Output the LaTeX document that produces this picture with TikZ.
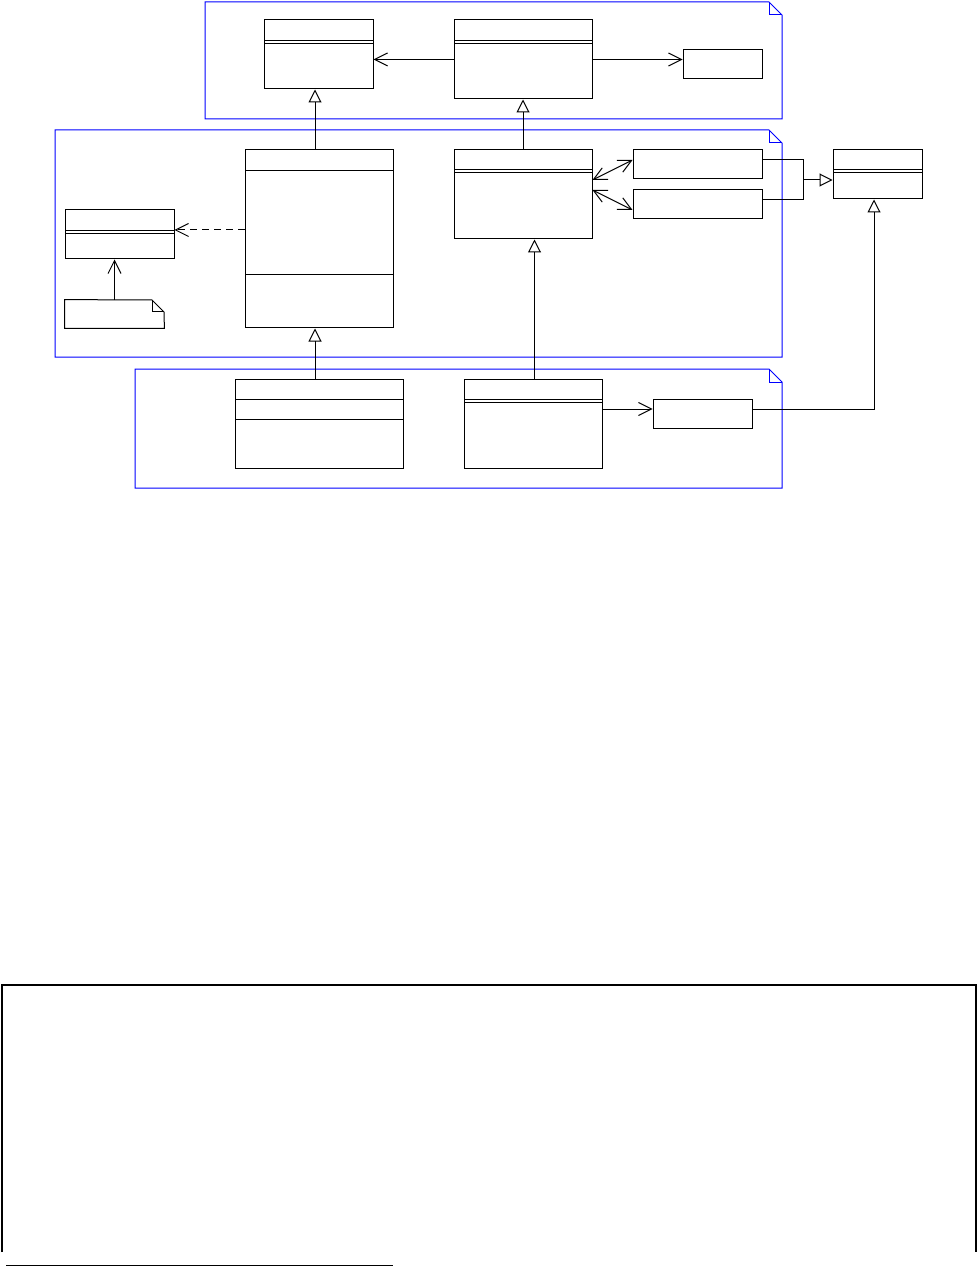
\documentclass[tikz,border=0pt]{standalone}
\usetikzlibrary{arrows.meta,fit,calc}
\tikzset{
  cls/.style={draw, line width=0.5pt, inner sep=0pt},
  ghost/.style={inner sep=0pt},
  pkg/.style={draw=blue, line width=0.5pt},
  ln/.style={line width=0.5pt},
  assoc/.style={ln, -{Straight Barb[length=6.5pt,width=6.5pt]}},
  biassoc/.style={ln, {Straight Barb[length=6.5pt,width=6.5pt]}-{Straight Barb[length=6.5pt,width=6.5pt]}},
  gen/.style={ln, -{Triangle[open,length=6.5pt,width=6.5pt]}},
  dep/.style={ln, dash pattern=on 3.5pt off 2.5pt, -{Straight Barb[length=6.5pt,width=6.5pt]}},
}
\begin{document}
\begin{tikzpicture}[x=0.5pt,y=-0.5pt]
\useasboundingbox (0,0) rectangle (978,1267);

% packages
\draw[pkg] (205,2) -- (769,2) -- (782,15) -- (782,119) -- (205,119) -- cycle;
\draw[pkg] (769,2) -- (769,15) -- (782,15);
\draw[pkg] (55,130) -- (769,130) -- (782,143) -- (782,357) -- (55,357) -- cycle;
\draw[pkg] (769,130) -- (769,143) -- (782,143);
\draw[pkg] (135,369) -- (769,369) -- (782,382) -- (782,488) -- (135,488) -- cycle;
\draw[pkg] (769,369) -- (769,382) -- (782,382);

% classes
\node[cls, fit={(264,20) (373,89)}] (A) {};
\draw[ln] (264,40.5) -- (373,40.5) (264,43.5) -- (373,43.5);
\node[cls, fit={(454,20) (592,99)}] (B) {};
\draw[ln] (454,40.5) -- (592,40.5) (454,43.5) -- (592,43.5);
\node[cls, fit={(683,50) (762,79)}] (C) {};

\node[cls, fit={(65,210) (174,259)}] (D) {};
\draw[ln] (65,230.5) -- (174,230.5) (65,233.5) -- (174,233.5);
\node[ghost, fit={(65,300) (164,328)}] (N) {};
\draw[ln] (N.south west) -- (N.north west) -- (152,300) -- (164,312) -- (N.south east) -- cycle;
\draw[ln] (152,300) -- (152,312) -- (164,312);
\node[cls, fit={(245,150) (393,328)}] (E) {};
\draw[ln] (245,170.5) -- (393,170.5) (245,275) -- (393,275);
\node[cls, fit={(454,150) (592,239)}] (F) {};
\draw[ln] (454,170) -- (592,170) (454,173) -- (592,173);
\node[cls, fit={(633,150) (762,179)}] (G) {};
\node[cls, fit={(633,190) (762,219)}] (H) {};
\node[cls, fit={(833,150) (922,199)}] (I) {};
\draw[ln] (833,170) -- (922,170) (833,173) -- (922,173);

\node[cls, fit={(235,379) (403,468)}] (J) {};
\draw[ln] (235,399) -- (403,399) (235,419) -- (403,419);
\node[cls, fit={(464,379) (602,468)}] (K) {};
\draw[ln] (464,399) -- (602,399) (464,402) -- (602,402);
\node[cls, fit={(653,399) (752,428)}] (L) {};

% connectors
\draw[assoc] (B.west) -- (B.west -| A.east);
\draw[assoc] (B.east) -- (B.east -| C.west);
\coordinate (e1) at ([xshift=-2pt]E.north);
\draw[gen] (e1) -- (e1 |- A.south);
\draw[gen] (F.north) -- (B.south);
\coordinate (dD) at ([yshift=2.25pt]D.east);
\draw[dep] (dD -| E.west) -- (dD);
\draw[assoc] (N.north) -- (N.north |- D.south);
\draw[biassoc] ([yshift=7.25pt]F.east) -- ([yshift=2.25pt]G.west);
\draw[biassoc] ([yshift=2.25pt]F.east) -- ([yshift=-2.75pt]H.west);
\coordinate (jn) at (803,180);
\draw[ln] ([yshift=2.25pt]G.east) -| (jn);
\draw[ln] ([yshift=2.25pt]H.east) -| (jn);
\draw[gen] (jn) -- (jn -| I.west);
\coordinate (j1) at ([xshift=-2pt]J.north);
\draw[gen] (j1) -- (j1 |- E.south);
\coordinate (k1) at ([xshift=0.75pt]K.north);
\draw[gen] (k1) -- (k1 |- F.south);
\coordinate (kr) at ([yshift=7.25pt]K.east);
\draw[assoc] (kr) -- (kr -| L.west);
\coordinate (lr) at ([yshift=2.25pt]L.east);
\coordinate (ib) at ([xshift=-1.75pt]I.south);
\draw[gen] (lr) -| (ib);

% lower frame and rule
\draw[line width=0.6pt] (2,1252) -- (2,985) -- (976,985) -- (976,1252);
\draw[line width=0.6pt] (6,1265.5) -- (393,1265.5);
\end{tikzpicture}
\end{document}
